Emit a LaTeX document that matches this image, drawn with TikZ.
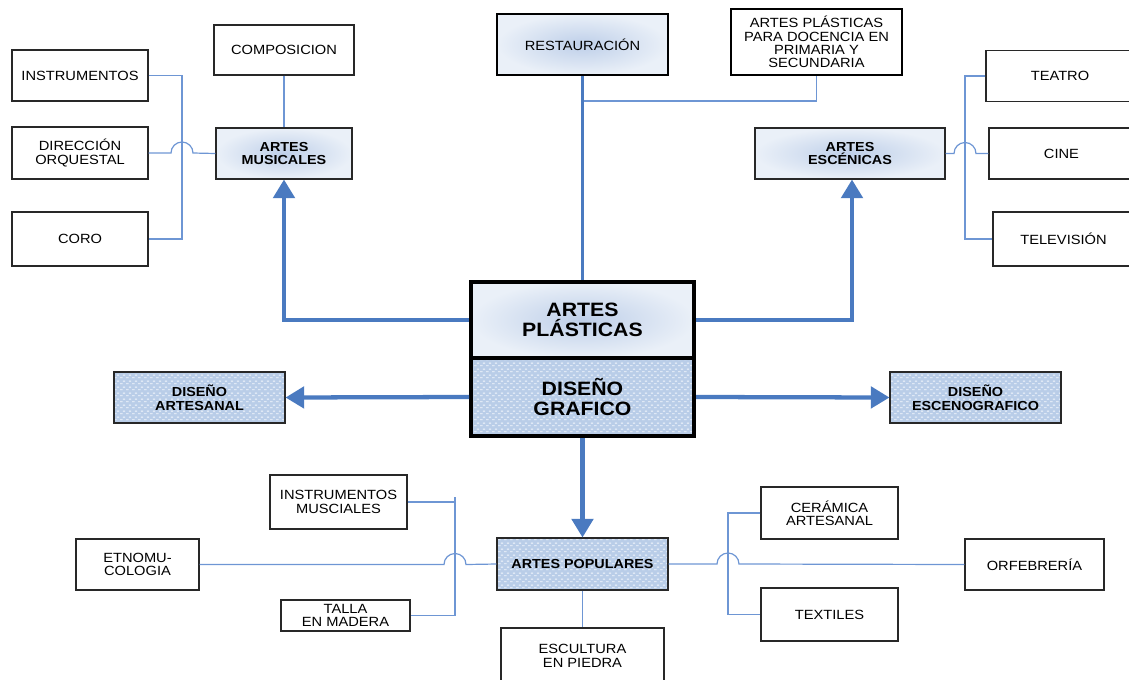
\documentclass[tikz,border=0pt]{standalone}
\usepackage{fontspec}
\setmainfont{Liberation Sans}[FakeStretch=1.1]
\usetikzlibrary{arrows.meta,calc,patterns.meta}
\definecolor{thickblue}{RGB}{74,122,192}
\definecolor{thinblue}{RGB}{110,150,212}
\definecolor{patblue}{RGB}{185,205,232}
\definecolor{gradin}{RGB}{190,207,233}
\definecolor{gradout}{RGB}{234,240,248}
\definecolor{boxline}{RGB}{40,40,40}
\tikzdeclarepattern{
  name=wdash,
  type=uncolored,
  bounding box={(0,0) and (4.5pt,4.5pt)},
  tile size={(4.5pt,4.5pt)},
  code={
    \draw[line width=0.8pt] (0.2pt,1.1pt) -- (2.3pt,1.1pt);
    \draw[line width=0.8pt] (2.45pt,3.35pt) -- (4.55pt,3.35pt);
  }}
\tikzset{
  sz/.style 2 args={minimum width=#1*0.75pt, minimum height=#2*0.75pt},
  plainbox/.style={draw=boxline, line width=0.8pt, fill=white, inner sep=0pt, align=center,
    font=\fontsize{10}{10}\selectfont},
  gradbox/.style={draw=boxline, line width=0.8pt, inner sep=0pt, align=center,
    shading=radial, inner color=gradin, outer color=gradout,
    font=\bfseries\fontsize{9.8}{10.3}\selectfont},
  patbox/.style={draw=boxline, line width=0.8pt, inner sep=0pt, align=center,
    preaction={fill=patblue}, pattern={wdash}, pattern color=white!85!patblue,
    font=\bfseries\fontsize{9.8}{10.3}\selectfont},
  thinc/.style={draw=thinblue, line width=0.9pt},
  bigarrow/.style={draw=thickblue, line width=3.2pt, -{Triangle[width=16pt,length=14pt]}},
}
\begin{document}
\begin{tikzpicture}[x=0.75pt,y=-0.75pt]
\useasboundingbox (0,0) rectangle (1129,679);
% left top
\node[plainbox, sz={136}{51}] (instr) at (80,75.5) {INSTRUMENTOS};
\node[plainbox, sz={136}{52}] (dir) at (80,153) {DIRECCIÓN\\ORQUESTAL};
\node[plainbox, sz={136}{54}] (coro) at (80,239) {CORO};
\node[plainbox, sz={140}{50}] (compo) at (284,50) {COMPOSICION};
\node[gradbox, sz={136}{51}] (mus) at (284,153.5) {ARTES\\MUSICALES};
% top center
\node[gradbox, sz={171}{61}, line width=2pt, draw=black, font=\fontsize{10}{10}\selectfont] (resta) at (582.5,44.5) {RESTAURACIÓN};
\node[plainbox, sz={171}{66}, line width=2pt, draw=black] (doc) at (816.5,42) {ARTES PLÁSTICAS\\PARA DOCENCIA EN\\PRIMARIA Y\\SECUNDARIA};
% right top
\node[gradbox, sz={190}{51}] (esc) at (850,153.5) {ARTES\\ESCÉNICAS};
\node[plainbox, sz={148}{51}] (teatro) at (1060,76) {TEATRO};
\node[plainbox, sz={145}{51}] (cine) at (1061.5,153.5) {CINE};
\node[plainbox, sz={141}{54}] (tele) at (1063.5,239) {TELEVISIÓN};
% center
\node[gradbox, sz={223}{77}, line width=3pt, draw=black, font=\bfseries\fontsize{14.5}{15.5}\selectfont] (plast) at (582.5,320) {ARTES\\PLÁSTICAS};
\node[patbox, sz={223}{78}, line width=3pt, draw=black, font=\bfseries\fontsize{14.5}{15.5}\selectfont] (graf) at (582.5,397) {DISEÑO\\GRAFICO};
% diseño sides
\node[patbox, sz={171}{51}] (dart) at (199.5,397.5) {DISEÑO\\ARTESANAL};
\node[patbox, sz={171}{51}] (desc) at (975.5,397.5) {DISEÑO\\ESCENOGRAFICO};
% bottom
\node[plainbox, sz={137}{54}] (imus) at (338.5,502) {INSTRUMENTOS\\MUSCIALES};
\node[plainbox, sz={123}{51}] (etno) at (137.5,564.5) {ETNOMU-\\COLOGIA};
\node[plainbox, sz={129}{31}] (talla) at (345.5,615.5) {TALLA\\EN MADERA};
\node[patbox, sz={171}{52}] (pop) at (582.5,564) {ARTES POPULARES};
\node[plainbox, sz={163}{56}] (escu) at (582.5,656) {ESCULTURA\\EN PIEDRA};
\node[plainbox, sz={137}{52}] (cer) at (829.5,513) {CERÁMICA\\ARTESANAL};
\node[plainbox, sz={139}{51}] (orf) at (1034.5,564.5) {ORFEBRERÍA};
\node[plainbox, sz={137}{53}] (tex) at (829.5,614.5) {TEXTILES};
% bus coordinates
\coordinate (busL) at (182,0);
\coordinate (busR) at (965,0);
\coordinate (busB) at (455,0);
\coordinate (busC) at (728,0);
\coordinate (junc) at (582.5,101);
\coordinate (topB) at (455,497);
% thin connectors
\draw[thinc] (instr.east) -- (instr.east -| busL) -- (coro.east -| busL) -- (coro.east);
\draw[thinc] (dir.east) -- ($(dir.east -| busL)+(-11,0)$) arc[start angle=180,end angle=360,radius=11] -- (mus.west);
\draw[thinc] (compo.south) -- (mus.north);
\draw[thinc] (teatro.west) -- (teatro.west -| busR) -- (tele.west -| busR) -- (tele.west);
\draw[thinc] (esc.east) -- ($(esc.east -| busR)+(-11,0)$) arc[start angle=180,end angle=360,radius=11] -- (cine.west);
\draw[thinc] (imus.east) -- (imus.east -| busB);
\draw[thinc] (topB) -- (talla.east -| busB) -- (talla.east);
\draw[thinc] (etno.east) -- ($(etno.east -| busB)+(-11,0)$) arc[start angle=180,end angle=360,radius=11] -- (pop.west);
\draw[thinc] (cer.west) -- (cer.west -| busC) -- (tex.west -| busC) -- (tex.west);
\draw[thinc] (pop.east) -- ($(pop.east -| busC)+(-11,0)$) arc[start angle=180,end angle=360,radius=11] -- (orf.west);
\draw[thinc] (pop.south) -- (escu.north);
\draw[thinc] (doc.south) |- (junc);
\draw[draw=thickblue, line width=2.2pt] (resta.south) -- (plast.north);
% thick arrows
\draw[bigarrow] (plast.west) -- (plast.west -| mus.south) -- (mus.south);
\draw[bigarrow] (plast.east) -- ($(plast.east -| esc.south)+(2,0)$) -- ($(esc.south)+(2,0)$);
\draw[bigarrow] (graf.west) -- (dart.east);
\draw[bigarrow] (graf.east) -- (desc.west);
\draw[bigarrow] (graf.south) -- (pop.north);
\end{tikzpicture}
\end{document}
